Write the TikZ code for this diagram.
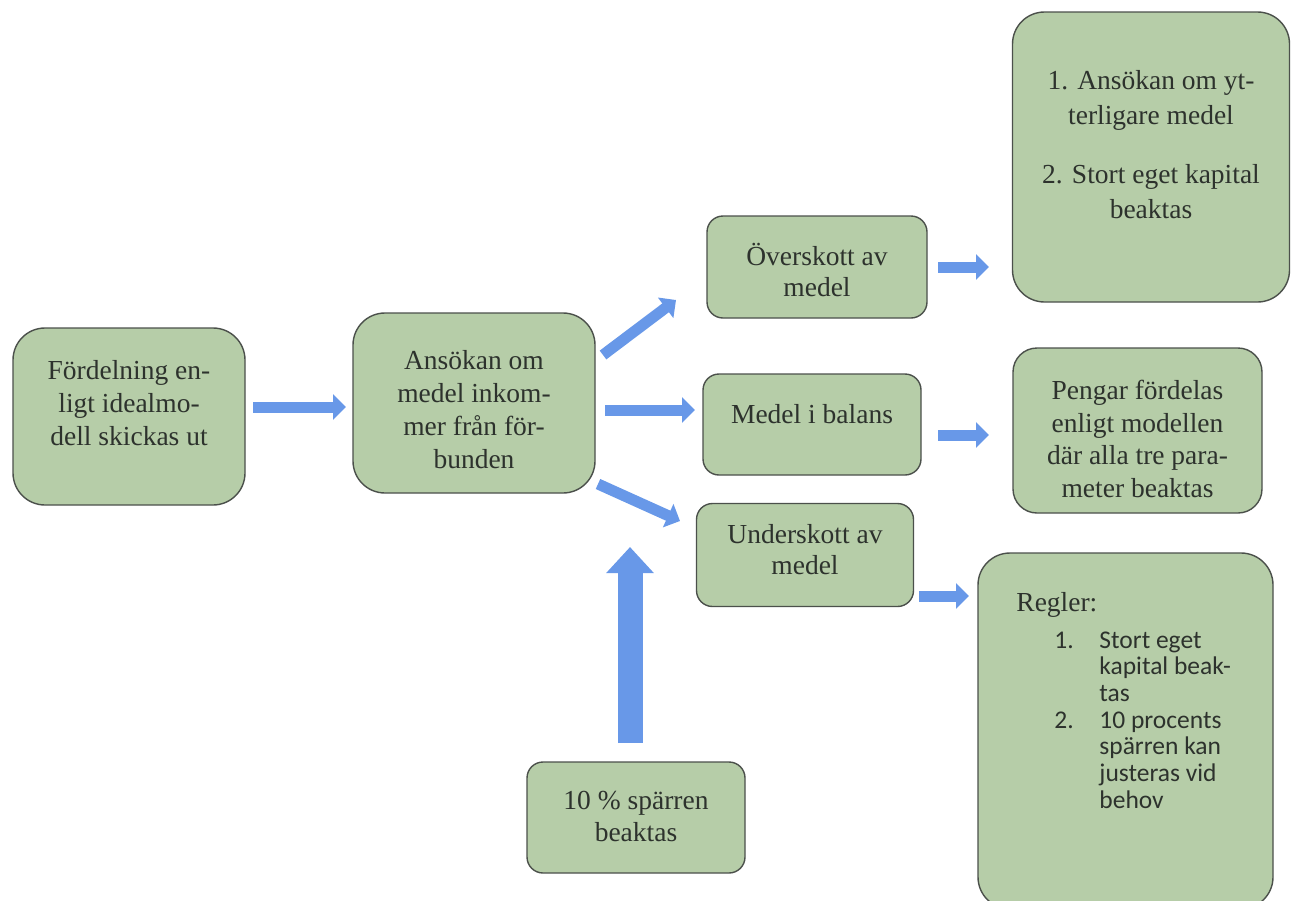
\documentclass[tikz,border=0pt]{standalone}
\usepackage{fontspec}
\setmainfont{Liberation Serif}
\newfontfamily\carlito{Carlito}
\usetikzlibrary{arrows.meta}

\definecolor{boxgreen}{RGB}{182,205,168}
\definecolor{boxline}{RGB}{75,80,75}
\definecolor{boxtext}{RGB}{45,50,45}
\definecolor{arrowblue}{RGB}{104,152,232}

\begin{document}
\begin{tikzpicture}[x=1pt,y=-1pt,thick]
	\tikzset{box/.style={draw=boxline,fill=boxgreen,line width=1.4pt,rounded corners=16pt,inner sep=0pt},
	         bigbox/.style={box,rounded corners=32pt},
	         txt/.style={align=center,inner sep=0pt,text=boxtext,font=\fontsize{27.5}{33}\selectfont},
	         flow/.style={draw=arrowblue,line width=11pt,-{Triangle[length=13pt,width=25pt]}},
	         bigflow/.style={draw=arrowblue,line width=25pt,-{Triangle[length=26pt,width=46pt]}}}

	\useasboundingbox (0,0) rectangle (1292,900);

	% boxes
	\node[bigbox,minimum width=232,minimum height=177] (fordel)     at (129,416.5) {};
	\node[bigbox,minimum width=242,minimum height=180] (ansokan)    at (474,403) {};
	\node[box,minimum width=220,minimum height=102]    (overskott)  at (817,267) {};
	\node[box,minimum width=218,minimum height=101]    (balans)     at (812,424.5) {};
	\node[box,minimum width=217,minimum height=103]    (underskott) at (805,555) {};
	\node[bigbox,minimum width=277,minimum height=290] (ytterligare) at (1151,157) {};
	\node[bigbox,rounded corners=24pt,minimum width=249,minimum height=165] (pengar) at (1137.5,430.5) {};
	\node[bigbox,minimum width=295,minimum height=356] (regler)     at (1125.5,731) {};
	\node[box,minimum width=218,minimum height=111]    (sparr)      at (636,817.5) {};

	% texts
	\node[txt] (fordel-t)     at (129,403) {Fördelning en-\\ligt idealmo-\\dell skickas ut};
	\node[txt] (ansokan-t)    at (474,410) {Ansökan om\\medel inkom-\\mer från för-\\bunden};
	\node[txt,font=\fontsize{27.5}{31}\selectfont] (overskott-t) at (817,270) {Överskott av\\medel};
	\node[txt] (balans-t)     at (812,414) {Medel i balans};
	\node[txt,font=\fontsize{27.5}{31}\selectfont] (underskott-t) at (805,550) {Underskott av\\medel};
	\node[txt,font=\fontsize{27.5}{35}\selectfont] (ytterligare-t) at (1151,145)
		{1. Ansökan om yt-\\terligare medel\\[24pt]2. Stort eget kapital\\beaktas};
	\node[txt,font=\fontsize{27.5}{32.5}\selectfont] (pengar-t) at (1137.5,439) {Pengar fördelas\\enligt modellen\\där alla tre para-\\meter beaktas};
	\node[txt,font=\fontsize{27.5}{32}\selectfont] (sparr-t) at (636,816) {10 \% spärren\\beaktas};
	\node[txt,anchor=north west,align=left,font=\carlito\fontsize{25.5}{26.7}\selectfont] (regler-t) at (1016,592)
		{{\rmfamily\fontsize{27.5}{26.7}\selectfont Regler:}\\[10pt]
		 \hspace*{38pt}\makebox[45pt][l]{1.}Stort eget\\
		 \hspace*{83pt}kapital beak-\\
		 \hspace*{83pt}tas\\
		 \hspace*{38pt}\makebox[45pt][l]{2.}10 procents\\
		 \hspace*{83pt}spärren kan\\
		 \hspace*{83pt}justeras vid\\
		 \hspace*{83pt}behov};

	% arrow ends
	\coordinate (a1s) at (253,407);  \coordinate (a1e) at (346,407);
	\coordinate (a2s) at (603,355);  \coordinate (a2e) at (676,300);
	\coordinate (a3s) at (605,410);  \coordinate (a3e) at (695,410);
	\coordinate (a4s) at (598,484);  \coordinate (a4e) at (680,521);
	\coordinate (a5s) at (938,267);  \coordinate (a5e) at (989,267);
	\coordinate (a6s) at (938,435);  \coordinate (a6e) at (989,435);
	\coordinate (a7s) at (919,596);  \coordinate (a7e) at (969,596);
	\coordinate (a8s) at (630,743);  \coordinate (a8e) at (630,547);

	\path[flow] (a1s) -- (a1e);
	\path[flow] (a2s) -- (a2e);
	\path[flow] (a3s) -- (a3e);
	\path[flow] (a4s) -- (a4e);
	\path[flow] (a5s) -- (a5e);
	\path[flow] (a6s) -- (a6e);
	\path[flow] (a7s) -- (a7e);
	\path[bigflow] (a8s) -- (a8e);
\end{tikzpicture}
\end{document}
